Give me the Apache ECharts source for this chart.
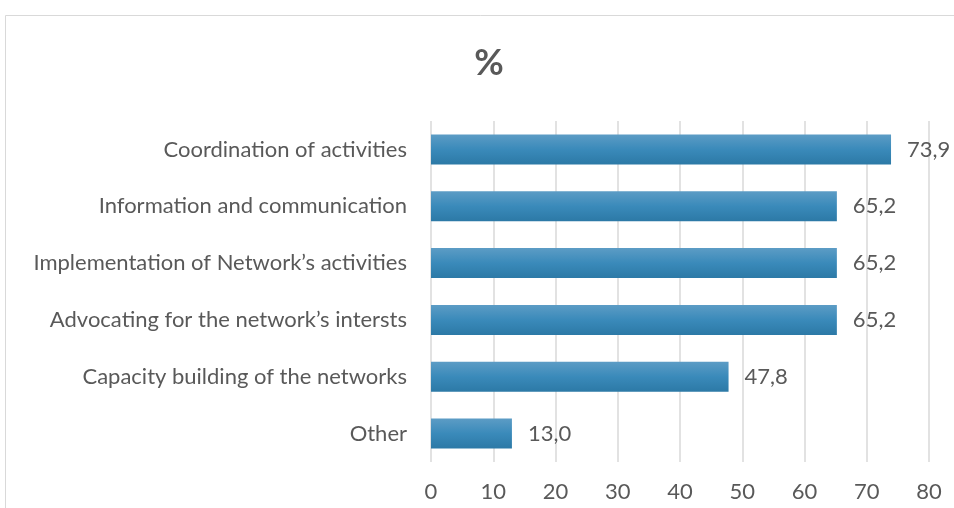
<!DOCTYPE html>
<html>
<head>
<meta charset="utf-8">
<script src="https://cdn.jsdelivr.net/npm/echarts@6/dist/echarts.min.js"></script>
<style>
  html, body { margin: 0; padding: 0; background: #ffffff; }
  #chart { width: 954px; height: 508px; }
</style>
</head>
<body>
<div id="chart"></div>
<script>
// Network functions, share of respondents (%), listed bottom-to-top for the category axis
const categories = [
  'Other',
  'Capacity building of the networks',
  'Advocating for the network\u2019s intersts',
  'Implementation of Network\u2019s activities',
  'Information and communication',
  'Coordination of activities'
];
const values = [13.0, 47.8, 65.2, 65.2, 65.2, 73.9];
const xTicks = { min: 0, max: 80, interval: 10 };

const textColor = '#595959';
const fontFamily = 'Lato, "Open Sans", sans-serif';

const chart = echarts.init(document.getElementById('chart'));
chart.setOption({
  backgroundColor: '#ffffff',
  animation: false,
  graphic: [
    {
      type: 'rect',
      shape: { x: 5.5, y: 15.5, width: 1000, height: 600 },
      style: { fill: 'none', stroke: '#d9d9d9', lineWidth: 1 },
      silent: true
    },
    {
      // chart title
      type: 'text',
      x: 489,
      y: 63,
      style: {
        text: '%',
        fill: textColor,
        font: 'bold 36px ' + fontFamily,
        align: 'center',
        verticalAlign: 'middle'
      },
      silent: true
    }
  ],
  grid: { left: 431, right: 25, top: 121, bottom: 46, containLabel: false },
  xAxis: {
    type: 'value',
    min: xTicks.min,
    max: xTicks.max,
    interval: xTicks.interval,
    axisLine: { show: false },
    axisTick: { show: false },
    axisLabel: { color: textColor, fontSize: 22, fontFamily: fontFamily, margin: 19 },
    splitLine: { show: true, lineStyle: { color: '#d9d9d9', width: 1.5 } }
  },
  yAxis: {
    type: 'category',
    data: categories,
    axisLine: { show: false },
    axisTick: { show: false },
    axisLabel: { color: textColor, fontSize: 22, fontFamily: fontFamily, margin: 24 }
  },
  series: [{
    type: 'bar',
    data: values,
    barWidth: 30,
    itemStyle: {
      color: new echarts.graphic.LinearGradient(0, 0, 0, 1, [
        { offset: 0, color: '#5c9cc5' },
        { offset: 0.5, color: '#3a8aba' },
        { offset: 1, color: '#2c79a6' }
      ])
    },
    label: {
      show: true,
      position: 'right',
      distance: 16,
      color: textColor,
      fontSize: 22,
      fontFamily: fontFamily,
      formatter: p => p.value.toFixed(1).replace('.', ',')
    }
  }]
});
</script>
</body>
</html>
